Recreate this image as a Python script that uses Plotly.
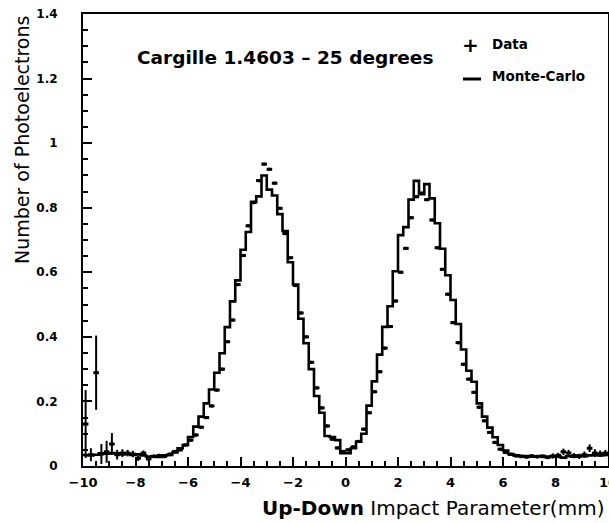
import numpy as np
import plotly.graph_objects as go

# Histogram binning: 100 bins of 0.2 mm from -10 to 10 mm
x_lo, x_hi, n_bins = -10.0, 10.0, 100

# Monte-Carlo expectation per bin (photoelectrons)
mc_values = [
    0.034, 0.033, 0.035, 0.039, 0.038, 0.040, 0.039, 0.036, 0.038, 0.034,
    0.036, 0.033, 0.029, 0.030, 0.028, 0.033, 0.034, 0.042, 0.055, 0.065,
    0.090, 0.122, 0.153, 0.194, 0.237, 0.289, 0.349, 0.430, 0.510, 0.575,
    0.670, 0.725, 0.818, 0.835, 0.900, 0.856, 0.838, 0.780, 0.728, 0.631,
    0.562, 0.456, 0.380, 0.300, 0.217, 0.165, 0.093, 0.090, 0.080, 0.040,
    0.040, 0.055, 0.075, 0.100, 0.187, 0.262, 0.345, 0.431, 0.495, 0.603,
    0.715, 0.740, 0.825, 0.883, 0.842, 0.873, 0.829, 0.752, 0.673, 0.591,
    0.514, 0.440, 0.361, 0.295, 0.261, 0.194, 0.153, 0.119, 0.089, 0.065,
    0.048, 0.037, 0.033, 0.030, 0.031, 0.029, 0.030, 0.031, 0.028, 0.030,
    0.029, 0.026, 0.030, 0.029, 0.032, 0.030, 0.033, 0.034, 0.033, 0.034,
]

# Measured mean photoelectrons per bin
data_values = [
    0.130, 0.035, 0.289, 0.037, 0.044, 0.068, 0.035, 0.040, 0.040, 0.037,
    0.024, 0.040, 0.022, 0.030, 0.032, 0.030, 0.036, 0.045, 0.050, 0.065,
    0.080, 0.096, 0.120, 0.150, 0.186, 0.235, 0.300, 0.385, 0.452, 0.562,
    0.652, 0.744, 0.816, 0.884, 0.935, 0.919, 0.876, 0.798, 0.720, 0.645,
    0.559, 0.474, 0.400, 0.321, 0.242, 0.180, 0.124, 0.083, 0.056, 0.045,
    0.050, 0.059, 0.076, 0.114, 0.165, 0.230, 0.292, 0.365, 0.432, 0.511,
    0.600, 0.674, 0.769, 0.834, 0.845, 0.825, 0.762, 0.676, 0.609, 0.532,
    0.444, 0.382, 0.315, 0.269, 0.228, 0.182, 0.140, 0.104, 0.073, 0.052,
    0.042, 0.036, 0.032, 0.030, 0.028, 0.031, 0.029, 0.030, 0.027, 0.031,
    0.033, 0.044, 0.040, 0.032, 0.030, 0.035, 0.055, 0.040, 0.038, 0.040,
]

# Statistical uncertainty on the measurement
data_errors = [
    0.105, 0.020, 0.115, 0.031, 0.034, 0.034, 0.015, 0.012, 0.010, 0.010,
    0.008, 0.008, 0.008, 0.006, 0.006, 0.006, 0.006, 0.005, 0.005, 0.005,
    0.005, 0.005, 0.005, 0.005, 0.005, 0.005, 0.005, 0.005, 0.005, 0.005,
    0.005, 0.005, 0.005, 0.005, 0.005, 0.005, 0.005, 0.005, 0.005, 0.005,
    0.005, 0.005, 0.005, 0.005, 0.005, 0.005, 0.005, 0.005, 0.005, 0.005,
    0.005, 0.005, 0.005, 0.005, 0.005, 0.005, 0.005, 0.005, 0.005, 0.005,
    0.005, 0.005, 0.005, 0.005, 0.005, 0.005, 0.005, 0.005, 0.005, 0.005,
    0.005, 0.005, 0.005, 0.005, 0.005, 0.005, 0.005, 0.005, 0.005, 0.005,
    0.005, 0.005, 0.006, 0.006, 0.006, 0.006, 0.006, 0.006, 0.006, 0.008,
    0.008, 0.010, 0.010, 0.008, 0.008, 0.010, 0.012, 0.012, 0.010, 0.010,
]

x_tick_values = [-10, -8, -6, -4, -2, 0, 2, 4, 6, 8, 10]
x_tick_labels = ["\u221210", "\u22128", "\u22126", "\u22124", "\u22122",
                 "0", "2", "4", "6", "8", "10"]
y_tick_values = [0, 0.2, 0.4, 0.6, 0.8, 1.0, 1.2, 1.4]
y_tick_labels = ["0", "0.2", "0.4", "0.6", "0.8", "1", "1.2", "1.4"]

title_text = "Cargille 1.4603 \u2013 25 degrees"

edges = np.linspace(x_lo, x_hi, n_bins + 1)
centers = 0.5 * (edges[:-1] + edges[1:])

FONT = "DejaVu Sans"

fig = go.Figure()

# Monte-Carlo as a step histogram
fig.add_trace(go.Scatter(
    x=list(edges),
    y=list(mc_values) + [mc_values[-1]],
    mode="lines",
    line=dict(shape="hv", color="black", width=2.6),
    hoverinfo="skip",
    showlegend=False,
))

# Data points with error bars
fig.add_trace(go.Scatter(
    x=centers,
    y=data_values,
    mode="markers",
    marker=dict(symbol="line-ew", size=4, color="black",
                line=dict(width=3, color="black")),
    error_y=dict(type="data", array=data_errors, color="black",
                 thickness=2, width=0),
    showlegend=False,
))

axis_common = dict(
    showline=True, linecolor="black", linewidth=2, mirror=True,
    ticks="inside", tickcolor="black", tickwidth=1.5, ticklen=9,
    showgrid=False, zeroline=False, automargin=False,
)

fig.update_xaxes(
    range=[x_lo, x_hi],
    tickvals=x_tick_values, ticktext=x_tick_labels,
    tickfont=dict(family=FONT, size=13, color="black", weight="bold"),
    minor=dict(dtick=0.5, ticks="inside", ticklen=5, tickcolor="black",
               tickwidth=1.5, showgrid=False),
    ticklabelstandoff=3,
    ticklabeloverflow="allow",
    **axis_common,
)
fig.update_yaxes(
    range=[0, 1.4],
    tickvals=y_tick_values, ticktext=y_tick_labels,
    tickfont=dict(family=FONT, size=12, color="black", weight="bold"),
    minor=dict(dtick=0.05, ticks="inside", ticklen=5, tickcolor="black",
               tickwidth=1.5, showgrid=False),
    ticklabelstandoff=21,
    **axis_common,
)

annotations = [
    dict(text="<b>" + title_text + "</b>", x=0.385, y=0.903,
         xref="paper", yref="paper", xanchor="center", yanchor="middle",
         showarrow=False, font=dict(family=FONT, size=18.5, color="black")),
    dict(text="<b>+</b>", x=(470 - 83) / 525, y=(466 - 45) / 452,
         xref="paper", yref="paper", xanchor="center", yanchor="middle",
         showarrow=False, font=dict(family=FONT, size=20, color="black")),
    dict(text="<b>Data</b>", x=(490 - 83) / 525, y=(466 - 44) / 452,
         xref="paper", yref="paper", xanchor="left", yanchor="middle",
         showarrow=False, font=dict(family=FONT, size=13.5, color="black")),
    dict(text="<b>Monte-Carlo</b>", x=(490 - 83) / 525, y=(466 - 76) / 452,
         xref="paper", yref="paper", xanchor="left", yanchor="middle",
         showarrow=False, font=dict(family=FONT, size=13.5, color="black")),
    dict(text="<b>Up-Down</b> Impact Parameter(mm)",
         x=(606 - 83) / 525, y=-(508 - 466) / 452,
         xref="paper", yref="paper", xanchor="right", yanchor="middle",
         showarrow=False, font=dict(family=FONT, size=20, color="black")),
    dict(text="Number of Photoelectrons", textangle=-90,
         x=(22 - 83) / 525, y=(466 - 14) / 452,
         xref="paper", yref="paper", xanchor="center", yanchor="top",
         showarrow=False, font=dict(family=FONT, size=19, color="black")),
]

fig.update_layout(
    width=609, height=523,
    margin=dict(l=83, r=1, t=14, b=57, autoexpand=False),
    paper_bgcolor="white", plot_bgcolor="white",
    annotations=annotations,
    shapes=[dict(type="line", xref="paper", yref="paper",
                 x0=(463 - 83) / 525, x1=(481 - 83) / 525,
                 y0=(466 - 79) / 452, y1=(466 - 79) / 452,
                 line=dict(color="black", width=3))],
)

fig.write_html("out.html")
